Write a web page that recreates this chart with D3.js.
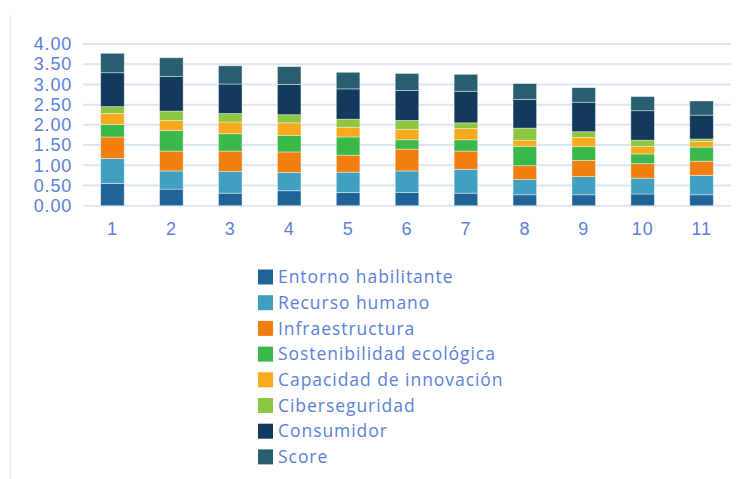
<!DOCTYPE html>
<html>
<head>
<meta charset="utf-8">
<script src="https://cdn.jsdelivr.net/npm/d3@7"></script>
<style>
  body { margin: 0; background: #fff; }
  svg { display: block; font-family: "Open Sans", sans-serif; }
</style>
</head>
<body>
<script>
// categories (x axis)
const categories = ["1", "2", "3", "4", "5", "6", "7", "8", "9", "10", "11"];

const seriesNames = ["Entorno habilitante", "Recurso humano", "Infraestructura",
    "Sostenibilidad ecológica", "Capacidad de innovación", "Ciberseguridad",
    "Consumidor", "Score"];

// values per series, one per category
const entorno     = [0.55, 0.41, 0.31, 0.37, 0.33, 0.33, 0.31, 0.27, 0.27, 0.29, 0.27];
const recurso     = [0.62, 0.45, 0.54, 0.45, 0.50, 0.53, 0.59, 0.38, 0.45, 0.39, 0.48];
const infra       = [0.53, 0.49, 0.50, 0.51, 0.42, 0.54, 0.45, 0.34, 0.40, 0.36, 0.35];
const sostenib    = [0.31, 0.51, 0.43, 0.41, 0.45, 0.23, 0.28, 0.48, 0.34, 0.24, 0.35];
const capacidad   = [0.27, 0.25, 0.29, 0.31, 0.24, 0.26, 0.28, 0.15, 0.23, 0.19, 0.14];
const ciber       = [0.17, 0.23, 0.21, 0.20, 0.20, 0.22, 0.14, 0.30, 0.14, 0.15, 0.06];
const consumidor  = [0.84, 0.86, 0.73, 0.75, 0.75, 0.74, 0.78, 0.71, 0.73, 0.73, 0.59];
const score       = [0.48, 0.46, 0.45, 0.44, 0.41, 0.42, 0.42, 0.39, 0.36, 0.35, 0.35];

const yTicks = [0, 0.5, 1, 1.5, 2, 2.5, 3, 3.5, 4];

const colors = ["#1f6399", "#41a0c0", "#f07f10", "#3bb84a", "#f8aa1e", "#8dc63f", "#133a5c", "#285e6f"];

const allSeries = [entorno, recurso, infra, sostenib, capacidad, ciber, consumidor, score];

const rows = categories.map((c, i) => {
    const r = { cat: c };
    seriesNames.forEach((s, j) => { r[s] = allSeries[j][i]; });
    return r;
});

const width = 741, height = 479;

const svg = d3.select("body").append("svg")
    .attr("width", width)
    .attr("height", height);

const textColor = "#5b7fd8";

// left border line
svg.append("line")
    .attr("x1", 10.5).attr("x2", 10.5)
    .attr("y1", 15).attr("y2", height)
    .attr("stroke", "#e6ebf5")
    .attr("stroke-width", 1.5);

const x = d3.scaleBand()
    .domain(categories)
    .range([83, 731])
    .paddingInner(0.6)
    .paddingOuter(0.3);

const y = d3.scaleLinear()
    .domain([0, 4])
    .range([205.7, 44]);

// gridlines
svg.append("g")
    .selectAll("line")
    .data(yTicks)
    .enter()
    .append("line")
    .attr("x1", 83).attr("x2", 731)
    .attr("y1", d => y(d)).attr("y2", d => y(d))
    .attr("stroke", "#dde5f3")
    .attr("stroke-width", 2);

const stack = d3.stack().keys(seriesNames);
const layers = stack(rows);

svg.append("g")
    .selectAll("g")
    .data(layers)
    .enter()
    .append("g")
    .attr("fill", (d, i) => colors[i])
    .selectAll("rect")
    .data(d => d)
    .enter()
    .append("rect")
    .attr("x", d => x(d.data.cat))
    .attr("width", x.bandwidth())
    .attr("y", d => y(d[1]))
    .attr("height", d => y(d[0]) - y(d[1]))
    .attr("stroke", "#ffffff")
    .attr("stroke-opacity", 0.5)
    .attr("stroke-width", 0.8);

// y axis
const yAxis = svg.append("g")
    .attr("transform", "translate(72,0)")
    .call(d3.axisLeft(y).tickValues(yTicks).tickFormat(d3.format(".2f")).tickSize(0).tickPadding(0));
yAxis.select(".domain").remove();
yAxis.selectAll("text")
    .attr("fill", textColor)
    .style("font-size", "18px")
    .style("letter-spacing", "0.8px");

// x axis
const xAxis = svg.append("g")
    .attr("transform", "translate(0,216)")
    .call(d3.axisBottom(x).tickSize(0).tickPadding(6));
xAxis.select(".domain").remove();
xAxis.selectAll("text")
    .attr("fill", textColor)
    .style("font-size", "18px")
    .style("letter-spacing", "0.8px");

// legend
const legend = svg.append("g")
    .attr("transform", "translate(258,277)");

const item = legend.selectAll("g")
    .data(seriesNames)
    .enter()
    .append("g")
    .attr("transform", (d, i) => `translate(0,${i * 25.7})`);

item.append("rect")
    .attr("x", 0).attr("y", -7.5)
    .attr("width", 15).attr("height", 15)
    .attr("fill", (d, i) => colors[i]);

item.append("text")
    .attr("x", 20)
    .attr("dy", "0.35em")
    .attr("fill", textColor)
    .style("font-size", "17.5px")
    .style("letter-spacing", "0.95px")
    .text(d => d);
</script>
</body>
</html>
